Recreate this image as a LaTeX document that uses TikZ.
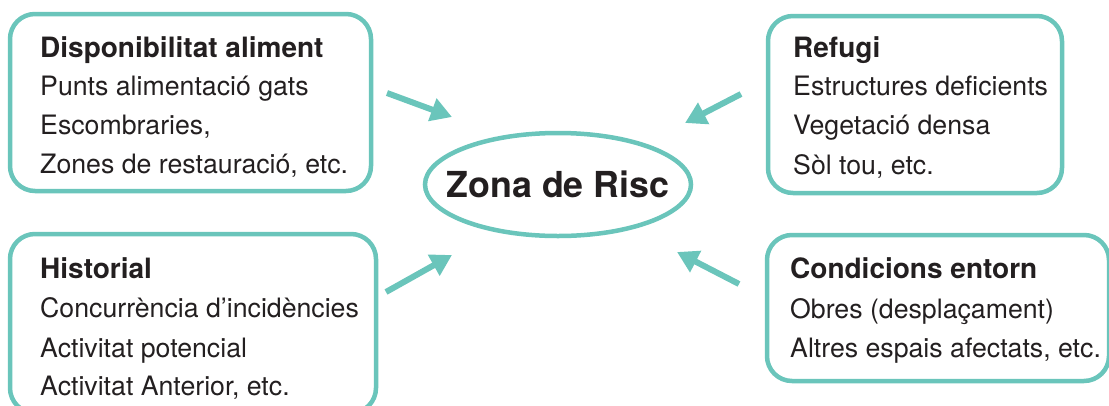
\documentclass[tikz,border=0pt]{standalone}
\usepackage{fontspec}
\setmainfont{TeX Gyre Heros}
\usetikzlibrary{arrows.meta,shapes.geometric}
\definecolor{tealc}{HTML}{6AC5BB}
\definecolor{ink}{HTML}{231F20}
\begin{document}
\begin{tikzpicture}[x=1pt,y=-1pt,
  boxshape/.style={draw=tealc, line width=4.5pt, rounded corners=25pt, rectangle, inner sep=0pt},
  zoneshape/.style={draw=tealc, line width=4.5pt, ellipse, inner sep=0pt, minimum width=266pt, minimum height=103pt},
  zonetext/.style={inner sep=0pt, text=ink, font=\fontsize{35.8}{40}\selectfont\bfseries},
  ttl/.style={anchor=base west, inner sep=0pt, text=ink, font=\fontsize{28}{32}\selectfont\bfseries},
  itm/.style={anchor=base west, inner sep=0pt, text=ink, font=\fontsize{26.7}{32}\selectfont},
  arr/.style={draw=tealc, line width=6pt, -{Triangle[length=21pt,width=23pt]}}]
\useasboundingbox (0,0) rectangle (1109,405);
% boxes
\node[boxshape, minimum width=361pt, minimum height=177pt] (b1) at (190.5,102.5) {};
\node[boxshape, minimum width=366pt, minimum height=179pt] (b2) at (193,323.5) {};
\node[boxshape, minimum width=294pt, minimum height=177pt] (b3) at (915,104.5) {};
\node[boxshape, minimum width=342pt, minimum height=146pt] (b4) at (938,308) {};
% center
\node[zoneshape] (zone) at (558,184.5) {};
\node[zonetext] (zonelbl) at (zone.center) {Zona de Risc};
% texts box 1
\node[ttl] (t1) at (40,57) {Disponibilitat aliment};
\node[itm] (t1a) at (40,95) {Punts alimentació gats};
\node[itm] (t1b) at (40,134) {Escombraries,};
\node[itm] (t1c) at (40,173) {Zones de restauració, etc.};
% texts box 2
\node[ttl] (t2) at (40,278) {Historial};
\node[itm] (t2a) at (40,317) {Concurrència d’incidències};
\node[itm] (t2b) at (40,357) {Activitat potencial};
\node[itm] (t2c) at (40,395) {Activitat Anterior, etc.};
% texts box 3
\node[ttl] (t3) at (793,57) {Refugi};
\node[itm] (t3a) at (793,95) {Estructures deficients};
\node[itm] (t3b) at (793,134) {Vegetació densa};
\node[itm] (t3c) at (793,174) {Sòl tou, etc.};
% texts box 4
\node[ttl] (t4) at (790,278) {Condicions entorn};
\node[itm] (t4a) at (790,318) {Obres (desplaçament)};
\node[itm] (t4b) at (790,357) {Altres espais afectats, etc.};
% arrows
\coordinate (a1s) at (387,93);  \coordinate (a1e) at (452,117);
\coordinate (a2s) at (386,292); \coordinate (a2e) at (452,255);
\coordinate (a3s) at (741,94);  \coordinate (a3e) at (685,123);
\coordinate (a4s) at (739,284); \coordinate (a4e) at (677,252);
\draw[arr] (a1s) -- (a1e);
\draw[arr] (a2s) -- (a2e);
\draw[arr] (a3s) -- (a3e);
\draw[arr] (a4s) -- (a4e);
\end{tikzpicture}
\end{document}
